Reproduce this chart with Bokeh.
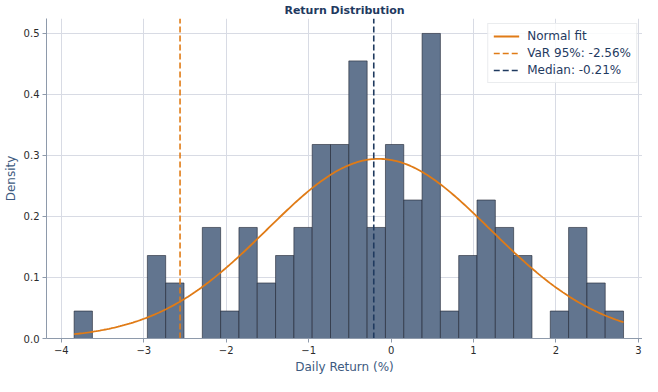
import numpy as np
from bokeh.plotting import figure
from bokeh.models import Range1d, FixedTicker, Legend, LegendItem
from bokeh.embed import file_html
from bokeh.resources import INLINE

# ---- data ----
bin_min = -3.845
bin_max = 2.82
densities = [0.045, 0.0, 0.0, 0.0, 0.136, 0.091, 0.0, 0.182, 0.045, 0.182,
             0.091, 0.136, 0.182, 0.318, 0.318, 0.455, 0.182, 0.318, 0.227, 0.5,
             0.045, 0.136, 0.227, 0.182, 0.136, 0.0, 0.045, 0.182, 0.091, 0.045]
fit_mu = -0.15
fit_sigma = 1.355
var95 = -2.56
median = -0.21
x_ticks = [-4, -3, -2, -1, 0, 1, 2, 3]
y_ticks = [0.0, 0.1, 0.2, 0.3, 0.4, 0.5]
y_top = 0.5245

edges = np.linspace(bin_min, bin_max, len(densities) + 1)
xs = np.linspace(bin_min, bin_max, 300)
pdf = np.exp(-0.5 * ((xs - fit_mu) / fit_sigma) ** 2) / (fit_sigma * np.sqrt(2 * np.pi))

NAVY = "#1f3a5f"
ORANGE = "#e07b16"
FONT = "DejaVu Sans"

p = figure(width=642, height=376, output_backend="svg", toolbar_location=None,
           x_range=Range1d(-4.18, 3.05), y_range=Range1d(0, y_top),
           title="Return Distribution")
p.min_border_left = 0
p.min_border_right = 0
p.min_border_top = 0
p.min_border_bottom = 0
p.outline_line_color = None
p.background_fill_color = "white"
p.border_fill_color = "white"

p.title.text_font = FONT
p.title.text_font_size = "11px"
p.title.text_font_style = "bold"
p.title.text_color = NAVY
p.title.align = "center"
p.title.standoff = 3
p.title.offset = 0

bars = p.quad(left=edges[:-1], right=edges[1:], bottom=0, top=densities,
              fill_color="#62758f", line_color="#1e2430", line_alpha=0.75, line_width=0.8)

fit = p.line(xs, pdf, line_color=ORANGE, line_width=1.8)
var_r = p.segment(x0=[var95], y0=[0], x1=[var95], y1=[y_top],
                  line_color=ORANGE, line_width=1.6, line_dash="6 3")
med_r = p.segment(x0=[median], y0=[0], x1=[median], y1=[y_top],
                  line_color=NAVY, line_width=1.6, line_dash="6 3")

legend = Legend(items=[
    LegendItem(label="Normal fit", renderers=[fit]),
    LegendItem(label=f"VaR 95%: {var95:.2f}%", renderers=[var_r]),
    LegendItem(label=f"Median: {median:.2f}%", renderers=[med_r]),
], location="top_right")
legend.label_text_font = FONT
legend.label_text_font_size = "12px"
legend.label_text_color = NAVY
legend.border_line_color = "#d6d9de"
legend.border_line_width = 1
legend.background_fill_alpha = 0.85
legend.glyph_width = 26
legend.glyph_height = 14
legend.label_height = 14
legend.label_standoff = 8
legend.spacing = 3
legend.padding = 5
legend.margin = 5
p.add_layout(legend)

for ax in (p.xaxis[0], p.yaxis[0]):
    ax.axis_line_color = "#8e9aab"
    ax.major_tick_line_color = "#8e9aab"
    ax.major_tick_out = 4
    ax.major_tick_in = 0
    ax.minor_tick_line_color = None
    ax.major_label_text_font = FONT
    ax.major_label_text_font_size = "10px"
    ax.major_label_text_color = "#2b2b2b"
    ax.axis_label_text_font = FONT
    ax.axis_label_text_font_size = "12px"
    ax.axis_label_text_font_style = "normal"
    ax.axis_label_text_color = "#3d5a80"
    ax.major_label_standoff = 3
    ax.axis_label_standoff = 3

p.xaxis.ticker = FixedTicker(ticks=x_ticks)
p.xaxis.major_label_overrides = {t: (f"{t}".replace("-", "\u2212")) for t in x_ticks}
p.yaxis.ticker = FixedTicker(ticks=y_ticks)
p.yaxis.major_label_overrides = {t: f"{t:.1f}" for t in y_ticks}
p.xaxis.axis_label = "Daily Return (%)"
p.yaxis.axis_label = "Density"

p.xgrid.ticker = FixedTicker(ticks=x_ticks)
p.ygrid.ticker = FixedTicker(ticks=y_ticks)
p.grid.grid_line_color = "#d8dbe4"
p.grid.grid_line_width = 1

open("out.html", "w").write(file_html(p, INLINE))
